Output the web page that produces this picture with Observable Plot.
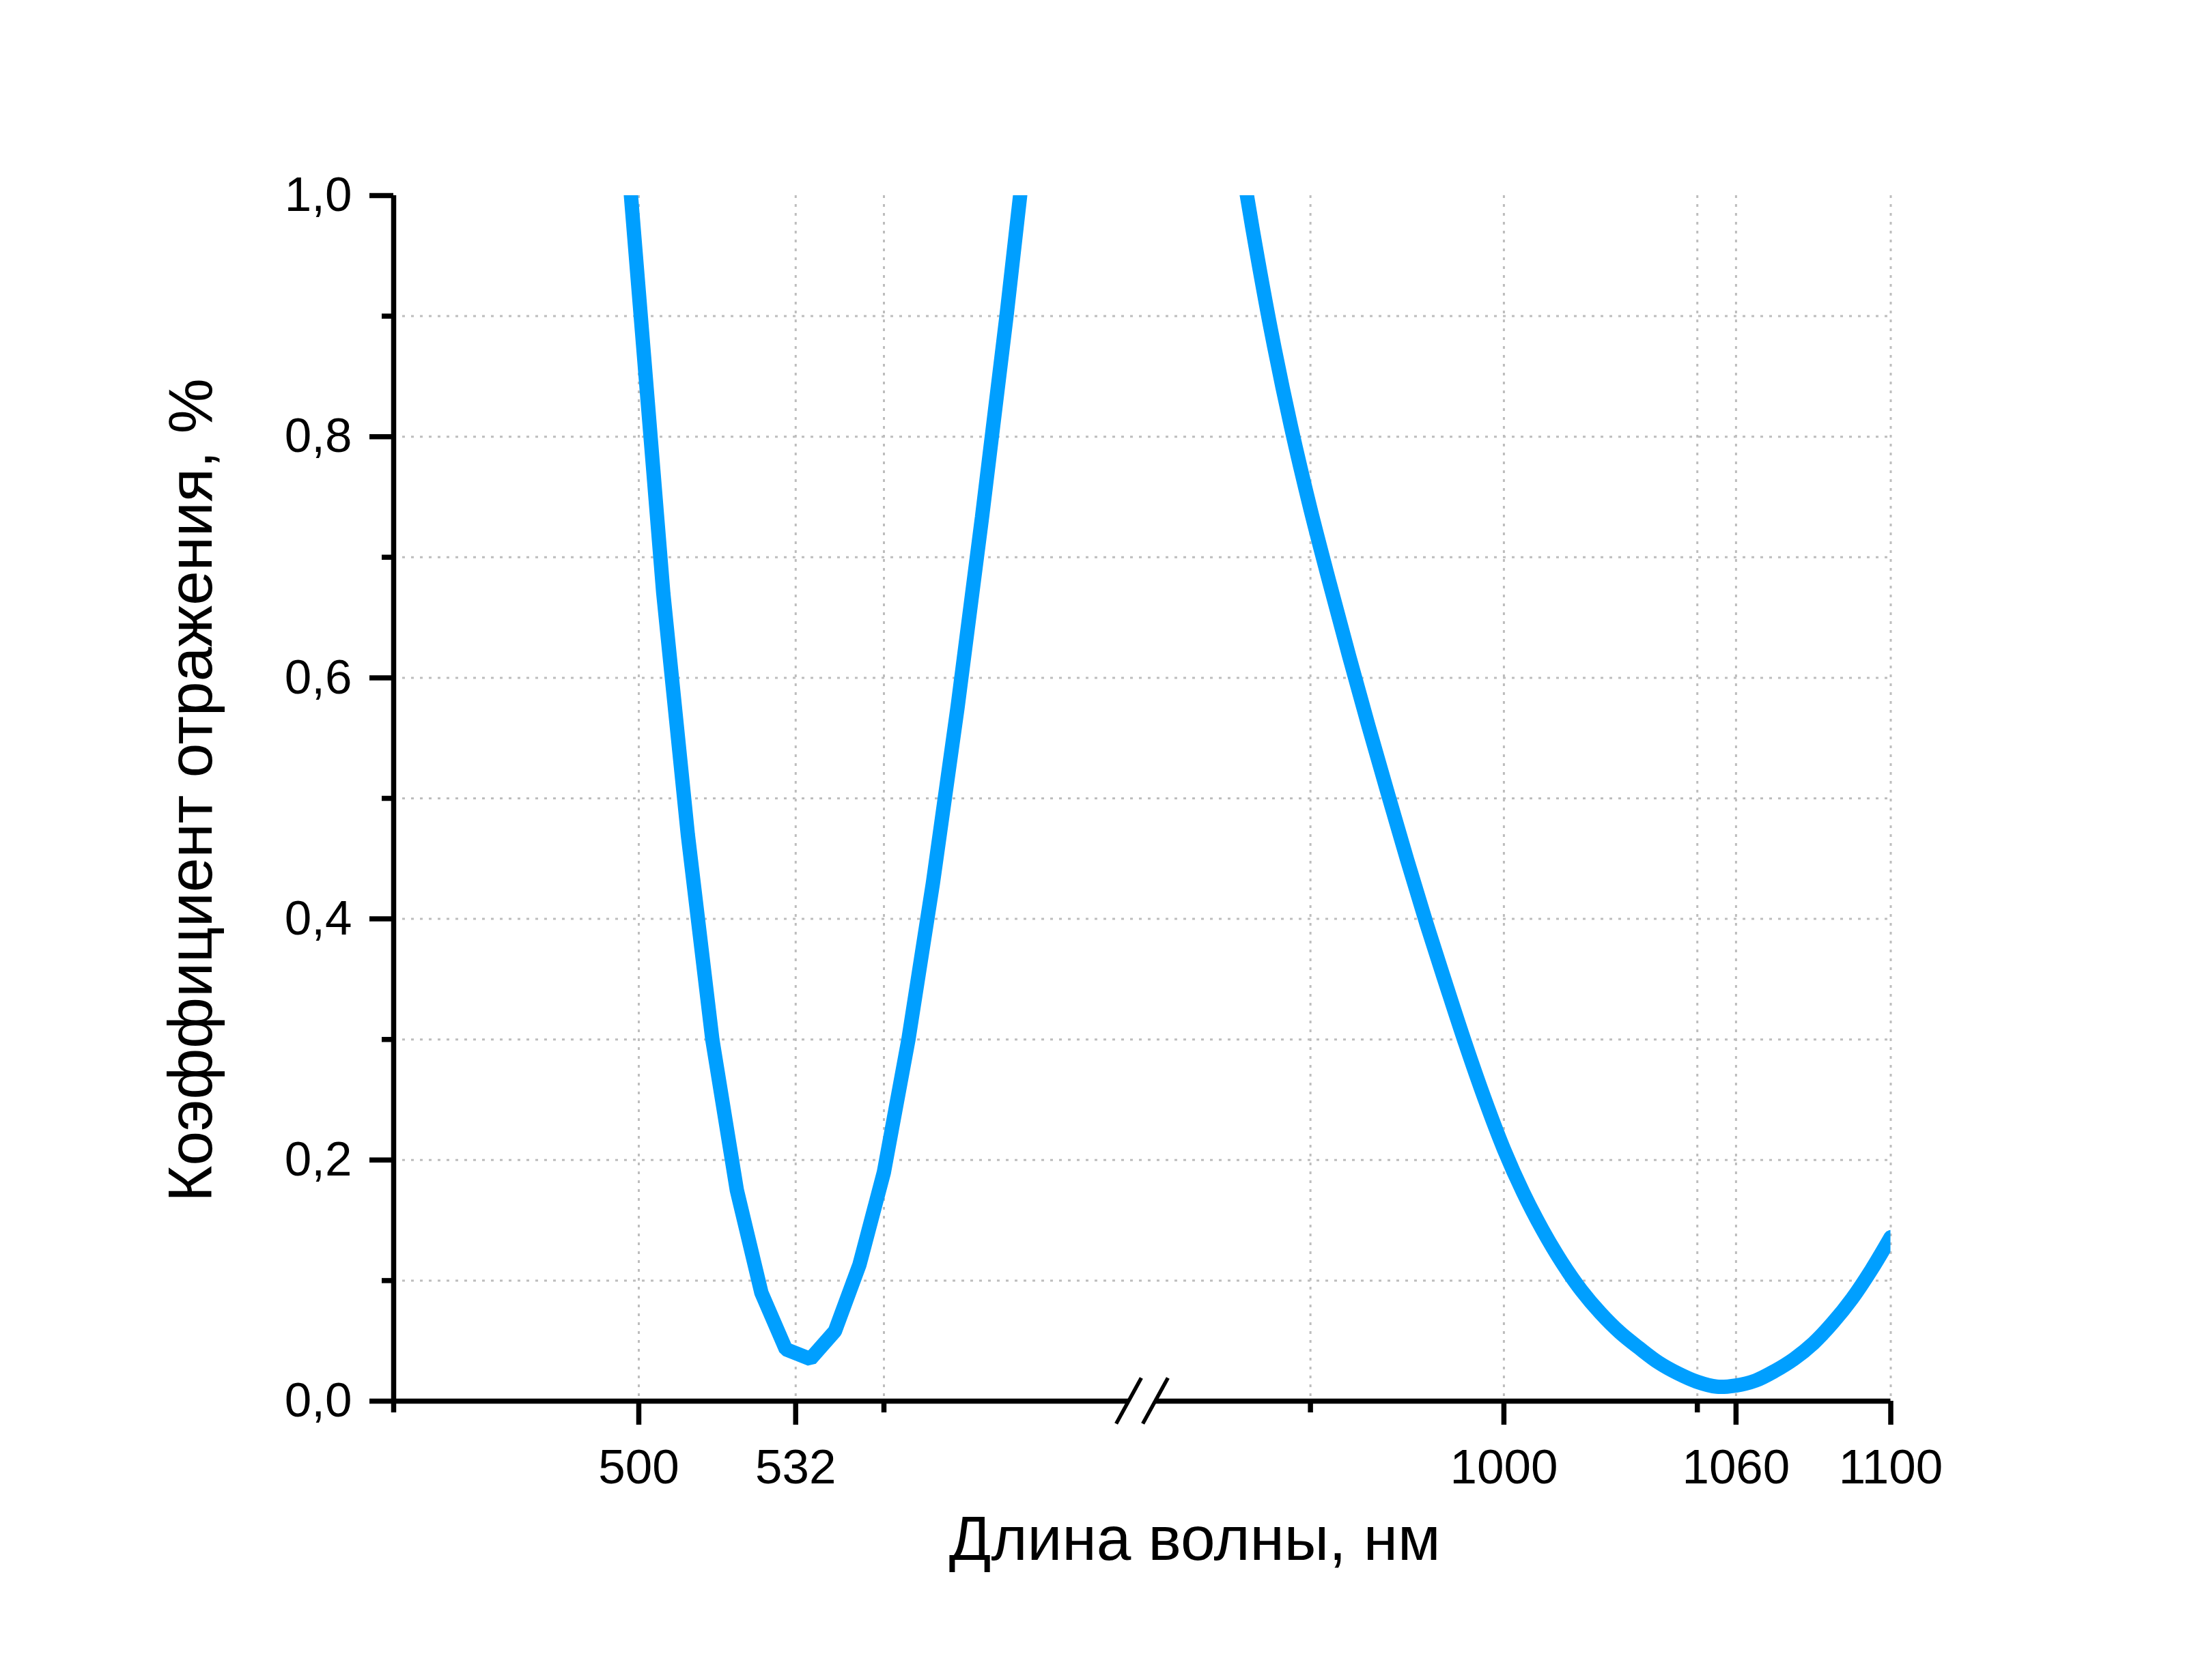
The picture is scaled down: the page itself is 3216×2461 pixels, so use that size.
<!DOCTYPE html>
<html>
<head>
<meta charset="utf-8">
<script src="https://cdn.jsdelivr.net/npm/d3@7"></script>
<script src="https://cdn.jsdelivr.net/npm/@observablehq/plot@0.6"></script>
<style>
  html, body { margin: 0; padding: 0; background: #ffffff; }
</style>
</head>
<body>
<div id="chart"></div>
<script>
// ---- Data ----
const leftWavelength  = [495, 500, 505, 510, 515, 520, 525, 530, 535, 540, 545, 550, 555, 560, 565, 570, 575, 580];
const leftReflectance = [1.17, 0.92, 0.67, 0.47, 0.30, 0.175, 0.09, 0.043, 0.035, 0.058, 0.113, 0.19, 0.30, 0.43, 0.575, 0.733, 0.90, 1.08];

const rightWavelength  = [930, 935, 940, 945, 950, 955, 960, 965, 970, 975, 980, 985, 990, 995, 1000,
                          1005, 1010, 1015, 1020, 1025, 1030, 1035, 1040, 1045, 1050, 1055, 1060,
                          1065, 1070, 1075, 1080, 1085, 1090, 1095, 1100];
const rightReflectance = [1.07, 0.973, 0.885, 0.808, 0.740, 0.678, 0.618, 0.560, 0.504, 0.449, 0.396, 0.346, 0.297, 0.251, 0.209,
                          0.173, 0.142, 0.115, 0.092, 0.073, 0.057, 0.044, 0.032, 0.023, 0.016, 0.012, 0.013,
                          0.017, 0.025, 0.035, 0.048, 0.065, 0.085, 0.109, 0.136];

const xBrokenDomain = [450, 600, 910, 1100];      // two segments: 450–600 and 910–1100
const majorTicksX   = [500, 532, 1000, 1060, 1100];
const minorTicksX   = [450, 550, 950, 1050];
const gridTicksX    = [500, 532, 550, 950, 1000, 1050, 1060, 1100];
const majorTicksY   = [0, 0.2, 0.4, 0.6, 0.8, 1.0];
const minorTicksY   = [0.1, 0.3, 0.5, 0.7, 0.9];
const gridTicksY    = [0.1, 0.2, 0.3, 0.4, 0.5, 0.6, 0.7, 0.8, 0.9];
const xTitle = "Длина волны, нм";
const yTitle = "Коэффициент отражения, %";

// ---- Tables for the line marks ----
const leftTable  = leftWavelength.map((w, i) => ({w, r: leftReflectance[i]}));
const rightTable = rightWavelength.map((w, i) => ({w, r: rightReflectance[i]}));

// ---- Layout ----
const W = 3216, H = 2461;
const mL = 576, mR = 447.5, mT = 286, mB = 409;
const xRange = [mL, 1653, 1692, W - mR];
const axisW = 7.5;
const lineColor = "#009fff";
const fmtY = d => d.toFixed(1).replace(".", ",");

// axis break symbol "//" drawn from the scales
function breakSymbol(a, b) {
  const scales = (a && typeof a.x === "function") ? a : b;
  const g = d3.create("svg:g");
  const y0 = scales.y(0);
  for (const v of [xBrokenDomain[1], xBrokenDomain[2]]) {
    const cx = scales.x(v);
    g.append("line")
      .attr("x1", cx - 18.4).attr("y1", y0 + 33.5)
      .attr("x2", cx + 18.4).attr("y2", y0 - 33.5)
      .attr("stroke", "black").attr("stroke-width", 5.5);
  }
  return g.node();
}

const chart = Plot.plot({
  width: W,
  height: H,
  marginLeft: mL,
  marginRight: mR,
  marginTop: mT,
  marginBottom: mB,
  style: {fontFamily: "'Liberation Sans', Arial, sans-serif", background: "white", color: "black", overflow: "visible"},
  x: {type: "linear", domain: xBrokenDomain, range: xRange, label: null},
  y: {type: "linear", domain: [0, 1], label: null},
  marks: [
    Plot.gridX({ticks: gridTicksX, stroke: "#bdbdbd", strokeOpacity: 1, strokeWidth: 3, strokeDasharray: "4,9"}),
    Plot.gridY({ticks: gridTicksY, stroke: "#bdbdbd", strokeOpacity: 1, strokeWidth: 3, strokeDasharray: "4,9"}),
    Plot.line(leftTable, {x: "w", y: "r", stroke: lineColor, strokeWidth: 21, strokeLinejoin: "miter", clip: true}),
    Plot.line(rightTable, {x: "w", y: "r", stroke: lineColor, strokeWidth: 21, curve: "catmull-rom", clip: true}),
    // axis lines
    Plot.ruleX([xBrokenDomain[0]], {y1: 0, y2: 1, stroke: "black", strokeWidth: axisW}),
    Plot.ruleY([0], {x1: xBrokenDomain[0], x2: xBrokenDomain[1], stroke: "black", strokeWidth: axisW}),
    Plot.ruleY([0], {x1: xBrokenDomain[2], x2: xBrokenDomain[3], stroke: "black", strokeWidth: axisW}),
    breakSymbol,
    // ticks and labels
    Plot.axisX({ticks: majorTicksX, tickSize: 35, tickPadding: 35, tickFormat: d => String(d), fontSize: 71, strokeWidth: axisW, label: null}),
    Plot.axisX({ticks: minorTicksX, tickSize: 17, tickFormat: () => "", strokeWidth: axisW, label: null}),
    Plot.axisY({ticks: majorTicksY, tickSize: 35, tickPadding: 26, tickFormat: fmtY, fontSize: 71, strokeWidth: axisW, label: null}),
    Plot.axisY({ticks: minorTicksY, tickSize: 17, tickFormat: () => "", strokeWidth: axisW, label: null}),
    // axis titles
    Plot.text([xTitle], {text: d => d, frameAnchor: "bottom", dx: 77, dy: 232, lineAnchor: "bottom", textAnchor: "middle", fontSize: 91, fill: "black"}),
    Plot.text([yTitle], {text: d => d, frameAnchor: "left", dx: -267, dy: -12, rotate: -90, lineAnchor: "bottom", textAnchor: "middle", fontSize: 91, fill: "black"})
  ]
});

document.getElementById("chart").append(chart);
</script>
</body>
</html>
